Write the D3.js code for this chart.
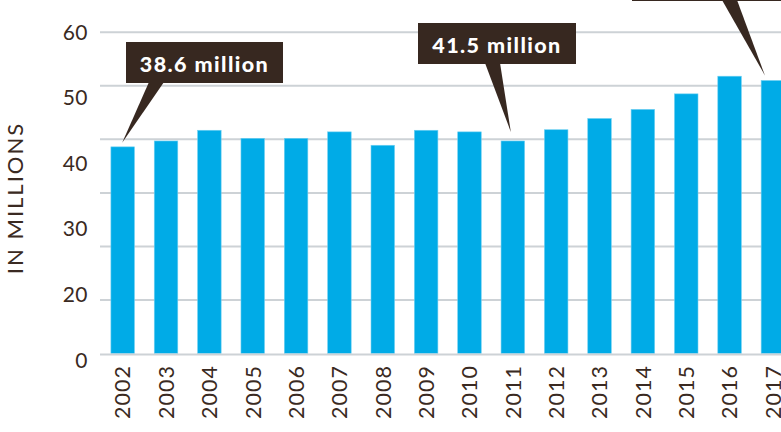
<!DOCTYPE html>
<html>
<head>
<meta charset="utf-8">
<script src="https://cdn.jsdelivr.net/npm/d3@7"></script>
<style>
  html, body { margin: 0; padding: 0; background: #ffffff; }
  svg { display: block; }
</style>
</head>
<body>
<svg id="chart" width="781" height="432"></svg>
<script>
// ---- data ----
const years = ["2002","2003","2004","2005","2006","2007","2008","2009","2010","2011","2012","2013","2014","2015","2016","2017"];
const values = [38.6, 39.7, 41.7, 40.2, 40.2, 41.4, 38.9, 41.7, 41.4, 39.7, 41.8, 43.9, 45.6, 48.5, 51.8, 51.0];
const gridValues = [0, 10, 20, 30, 40, 50, 60];
const tickLabels = ["60", "50", "40", "30", "20", "0"];
const axisTitle = "IN MILLIONS";
const annoYears = ["2002", "2011", "2017"];
const annoTexts = ["38.6 million", "41.5 million", ""];

// ---- layout ----
const W = 781, H = 432;
const ink = "#3a2a22";
const calloutFill = "#372820";
const barColor = "#00abe7";
const gridColor = "#cdd2d6";
const fontFamily = "Lato, 'Open Sans', sans-serif";

const svg = d3.select("#chart");

const x = d3.scaleBand()
  .domain(years)
  .range([101, 101 + years.length * 43.35])
  .paddingInner(0.457)
  .paddingOuter(0.2285);

const y = d3.scaleLinear().domain([0, 60]).range([353.5, 32.3]);

const labelPos = d3.scalePoint().domain(tickLabels).range([32, 360]);

// gridlines
svg.append("g").selectAll("line")
  .data(gridValues.filter(v => v !== 0))
  .join("line")
  .attr("x1", 100).attr("x2", W)
  .attr("y1", d => y(d)).attr("y2", d => y(d))
  .attr("stroke", gridColor).attr("stroke-width", 2);

// bars
svg.append("g").selectAll("rect")
  .data(years.map((yr, i) => ({ yr, v: values[i] })))
  .join("rect")
  .attr("x", d => x(d.yr))
  .attr("width", x.bandwidth())
  .attr("y", d => y(d.v))
  .attr("height", d => y(0) - y(d.v))
  .attr("fill", barColor)
  .attr("stroke", "#6fd0f2").attr("stroke-width", 0.6);

// baseline
svg.append("line")
  .attr("x1", 100).attr("x2", W)
  .attr("y1", y(0) + 1).attr("y2", y(0) + 1)
  .attr("stroke", gridColor).attr("stroke-width", 2.2);

// y tick labels (as printed in the source, evenly spaced)
svg.append("g").selectAll("text")
  .data(tickLabels)
  .join("text")
  .attr("x", 88)
  .attr("y", d => labelPos(d))
  .attr("dy", "0.36em")
  .attr("text-anchor", "end")
  .attr("font-family", fontFamily)
  .attr("font-size", 21)
  .attr("letter-spacing", 0.5)
  .attr("fill", ink)
  .text(d => d);

// x tick labels
svg.append("g").selectAll("text")
  .data(years)
  .join("text")
  .attr("transform", d => `translate(${x(d) + x.bandwidth() / 2 + 7.8},365) rotate(-90)`)
  .attr("text-anchor", "end")
  .attr("font-family", fontFamily)
  .attr("font-size", 21.5)
  .attr("letter-spacing", 1)
  .attr("fill", ink)
  .text(d => d);

// y axis title
svg.append("text")
  .attr("transform", "translate(23,198) rotate(-90)")
  .attr("text-anchor", "middle")
  .attr("font-family", fontFamily)
  .attr("font-size", 22)
  .attr("letter-spacing", 2)
  .attr("fill", ink)
  .text(axisTitle);

// callouts
const calloutLayout = [
  { boxLeft: 126, boxTop: 42, boxW: 157, boxH: 41, baseL: 23, baseR: 38, tipDx: -0.5, tipGap: 4 },
  { boxLeft: 418, boxTop: 23, boxW: 158, boxH: 41, baseL: 67, baseR: 82, tipDx: -2, tipGap: 9 },
  { boxLeft: 632, boxTop: -40, boxW: 180, boxH: 41, baseL: 90, baseR: 105, tipDx: -8, tipGap: 5 }
];

const cg = svg.append("g");
annoYears.forEach((yr, i) => {
  const L = calloutLayout[i];
  const v = values[years.indexOf(yr)];
  const tipX = x(yr) + x.bandwidth() / 2 + L.tipDx;
  const tipY = y(v) - L.tipGap;
  const by = L.boxTop + L.boxH;
  cg.append("path")
    .attr("d", `M${L.boxLeft + L.baseL},${by - 1} L${tipX},${tipY} L${L.boxLeft + L.baseR},${by - 1} Z`)
    .attr("fill", calloutFill);
  cg.append("rect")
    .attr("x", L.boxLeft).attr("y", L.boxTop)
    .attr("width", L.boxW).attr("height", L.boxH)
    .attr("fill", calloutFill);
  if (annoTexts[i]) {
    cg.append("text")
      .attr("x", L.boxLeft + L.boxW / 2)
      .attr("y", L.boxTop + 29.5)
      .attr("text-anchor", "middle")
      .attr("font-family", fontFamily)
      .attr("font-weight", 900)
      .attr("font-size", 21.5)
      .attr("letter-spacing", 1.4)
      .attr("fill", "#ffffff")
      .text(annoTexts[i]);
  }
});
</script>
</body>
</html>
